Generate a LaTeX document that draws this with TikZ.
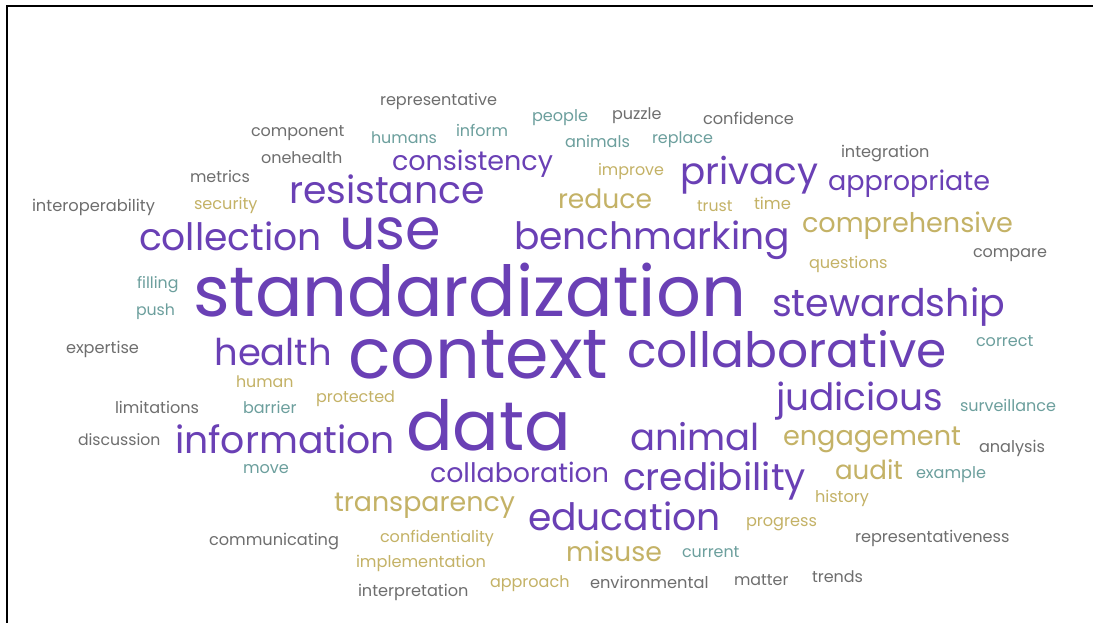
\documentclass[tikz,border=0pt]{standalone}
\usepackage{fontspec}
\setmainfont{Poppins}
\usepackage{graphicx}
\definecolor{pur}{HTML}{6A40B5}
\definecolor{gold}{HTML}{C4B266}
\definecolor{teal}{HTML}{6C9F9D}
\definecolor{gry}{HTML}{6E6E6E}
\newcommand{\rs}[2]{\resizebox{#1pt}{!}{#2}}
\tikzset{
  w/.style={anchor=base west, inner sep=0pt, outer sep=0pt, font=\fontsize{20}{24}\selectfont},
  wp/.style={w, text=pur},
  wg/.style={w, text=gold},
  wt/.style={w, text=teal},
  wy/.style={w, text=gry},
  frame/.style={draw=black, line width=2pt}
}
\begin{document}
\begin{tikzpicture}[x=1pt,y=-1pt]
\useasboundingbox (0,0) rectangle (1093,623);
\fill[white] (0,0) rectangle (1093,623);
\coordinate (fa) at (7,623);
\coordinate (fb) at (7,6.3);
\coordinate (fc) at (1093,6.3);
\draw[frame] (fa) -- (fb) -- (fc);
% purple
\node[wp] (standardization) at (193,316) {\rs{553}{standardization}};
\node[wp] (context) at (348,378) {\rs{260}{context}};
\node[wp] (data) at (406,450) {\rs{165}{data}};
\node[wp] (use) at (339,250) {\rs{102}{use}};
\node[wp] (collection) at (139,250) {\rs{183}{collection}};
\node[wp] (resistance) at (289,204) {\rs{196}{resistance}};
\node[wp] (consistency) at (392,171) {\rs{161}{consistency}};
\node[wp] (benchmarking) at (514,250) {\rs{276}{benchmarking}};
\node[wp] (privacy) at (680,185) {\rs{138}{privacy}};
\node[wp] (appropriate) at (828,190) {\rs{162}{appropriate}};
\node[wp] (stewardship) at (772,316) {\rs{233}{stewardship}};
\node[wp] (collaborative) at (627,367) {\rs{320}{collaborative}};
\node[wp] (health) at (214.5,365) {\rs{117.5}{health}};
\node[wp] (information) at (175,453) {\rs{220}{information}};
\node[wp] (judicious) at (776,410) {\rs{167.5}{judicious}};
\node[wp] (animal) at (630,450) {\rs{130}{animal}};
\node[wp] (credibility) at (623,490) {\rs{183}{credibility}};
\node[wp] (collaboration) at (430,482) {\rs{179}{collaboration}};
\node[wp] (education) at (528,530) {\rs{192.5}{education}};
% gold
\node[wg] (comprehensive) at (802,232) {\rs{211}{comprehensive}};
\node[wg] (engagement) at (783,445) {\rs{178}{engagement}};
\node[wg] (transparency) at (334,511) {\rs{181}{transparency}};
\node[wg] (misuse) at (566,561) {\rs{96}{misuse}};
\node[wg] (audit) at (835,479) {\rs{68}{audit}};
\node[wg] (reduce) at (558,208) {\rs{94}{reduce}};
\node[wg] (improve) at (598,176) {\rs{66}{improve}};
\node[wg] (security) at (194,209) {\rs{63.5}{security}};
\node[wg] (trust) at (697,211.5) {\rs{35.5}{trust}};
\node[wg] (time) at (754,209.5) {\rs{37}{time}};
\node[wg] (questions) at (809,268) {\rs{78.5}{questions}};
\node[wg] (human) at (236,387) {\rs{57.5}{human}};
\node[wg] (protected) at (316,402) {\rs{79}{protected}};
\node[wg] (history) at (815,502) {\rs{54}{history}};
\node[wg] (progress) at (746,526) {\rs{71}{progress}};
\node[wg] (confidentiality) at (380,542) {\rs{114}{confidentiality}};
\node[wg] (implementation) at (356,567) {\rs{130}{implementation}};
\node[wg] (approach) at (490,587) {\rs{79.5}{approach}};
% teal
\node[wt] (humans) at (371,143) {\rs{66}{humans}};
\node[wt] (inform) at (456,137) {\rs{52}{inform}};
\node[wt] (people) at (532,122) {\rs{56}{people}};
\node[wt] (animals) at (565,148) {\rs{65}{animals}};
\node[wt] (replace) at (652,144) {\rs{61}{replace}};
\node[wt] (filling) at (137,288.5) {\rs{41.5}{filling}};
\node[wt] (push) at (136,315) {\rs{39}{push}};
\node[wt] (correct) at (976,346) {\rs{57.5}{correct}};
\node[wt] (barrier) at (243,413) {\rs{53.5}{barrier}};
\node[wt] (surveillance) at (960,411.7) {\rs{96}{surveillance}};
\node[wt] (move) at (243,473) {\rs{46}{move}};
\node[wt] (example) at (916,478) {\rs{70}{example}};
\node[wt] (current) at (682,557) {\rs{57.5}{current}};
% gray
\node[wy] (representative) at (380,106) {\rs{117}{representative}};
\node[wy] (component) at (251,136) {\rs{93.5}{component}};
\node[wy] (puzzle) at (612,120) {\rs{49.5}{puzzle}};
\node[wy] (confidence) at (703,125) {\rs{91}{confidence}};
\node[wy] (onehealth) at (261,164) {\rs{81.5}{onehealth}};
\node[wy] (integration) at (841,158) {\rs{88.5}{integration}};
\node[wy] (metrics) at (190,183) {\rs{60}{metrics}};
\node[wy] (interoperability) at (32,211) {\rs{123}{interoperability}};
\node[wy] (compare) at (973,257) {\rs{74}{compare}};
\node[wy] (expertise) at (66,353) {\rs{73}{expertise}};
\node[wy] (limitations) at (115,413) {\rs{84}{limitations}};
\node[wy] (discussion) at (78,445) {\rs{82.5}{discussion}};
\node[wy] (analysis) at (979,452) {\rs{66}{analysis}};
\node[wy] (representativeness) at (855,542) {\rs{154.5}{representativeness}};
\node[wy] (communicating) at (209,545) {\rs{130}{communicating}};
\node[wy] (environmental) at (590,588) {\rs{118.5}{environmental}};
\node[wy] (matter) at (734,585) {\rs{54.5}{matter}};
\node[wy] (trends) at (812,582) {\rs{51}{trends}};
\node[wy] (interpretation) at (358,596.5) {\rs{110.5}{interpretation}};
\end{tikzpicture}
\end{document}
